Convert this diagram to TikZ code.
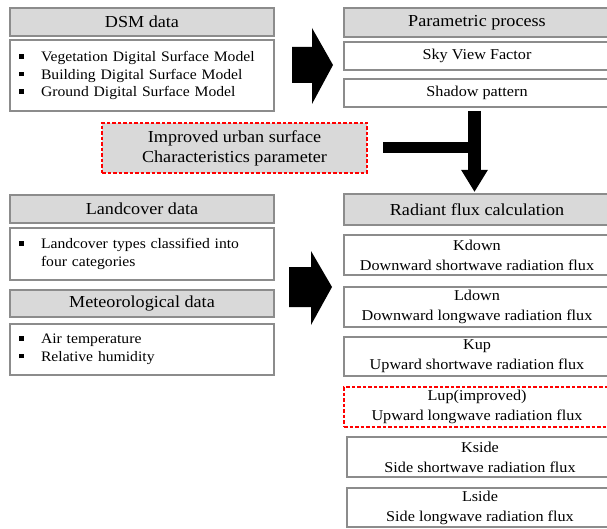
\documentclass[tikz,border=0pt]{standalone}
\usepackage{fontspec}
\setmainfont{Liberation Serif}[FakeStretch=1.08]
\usetikzlibrary{positioning,arrows.meta}

\definecolor{boxgray}{HTML}{D9D9D9}
\definecolor{edgegray}{HTML}{8C8C8C}
\newcommand{\sqbul}{\makebox[22pt][l]{\rule[3pt]{4.5pt}{4.5pt}}}

\begin{document}
\begin{tikzpicture}[
        x=1pt, y=1pt,
        every node/.style={draw=edgegray, line width=1.2pt, inner sep=0pt, outer sep=0pt, align=center, anchor=north west, font=\fontsize{15}{20}\selectfont},
        head/.style={fill=boxgray, minimum height=28pt, font=\fontsize{16.8}{20}\selectfont},
        leftbox/.style={minimum width=264pt},
        listbox/.style={text width=246pt, inner xsep=9pt, align=left, font=\fontsize{14.5}{17.5}\selectfont},
        rightbox/.style={minimum width=266pt, minimum height=40pt},
        improved/.style={draw=red, line width=1.4pt, dash pattern=on 3.5pt off 2pt}
    ]
    \useasboundingbox (0,0) rectangle (607,-529);

    % Input data (left)
    \node[head, leftbox] (dsm) at (10,-8) {DSM data};
    \node[listbox, minimum height=71pt] (dsmlist) at (10,-40) {\sqbul Vegetation Digital Surface Model\\ \sqbul Building Digital Surface Model\\ \sqbul Ground Digital Surface Model};

    \node[head, leftbox] (land) at (10,-195) {Landcover data};
    \node[listbox, minimum height=52pt] (landlist) at (10,-228) {\sqbul Landcover types classified into\\ \hspace*{22pt}four categories};
    \node[head, leftbox, minimum height=27pt] (met) at (10,-290) {Meteorological data};
    \node[listbox, minimum height=51pt] (metlist) at (10,-324) {\sqbul Air temperature\\ \sqbul Relative humidity};

    \node[head, improved, minimum width=265pt, minimum height=50pt] (impr) at (102,-123) {Improved urban surface\\ Characteristics parameter};

    % Processing (right)
    \node[head, minimum width=266pt, minimum height=29pt] (param) at (344,-8) {Parametric process};
    \node[minimum width=266pt, minimum height=28pt] (svf) at (344,-42) {Sky View Factor};
    \node[minimum width=266pt, minimum height=28pt] (shadow) at (344,-79) {Shadow pattern};

    \node[head, minimum width=266pt, minimum height=31pt] (radiant) at (344,-194) {Radiant flux calculation};
    \node[rightbox] (kdown) at (344,-235) {Kdown\\ Downward shortwave radiation flux};
    \node[rightbox] (ldown) at (344,-287) {Ldown\\ Downward longwave radiation flux};
    \node[rightbox, minimum height=39pt] (kup) at (344,-337) {Kup\\ Upward shortwave radiation flux};
    \node[rightbox, improved] (lup) at (344,-387) {Lup(improved)\\ Upward longwave radiation flux};
    \node[rightbox] (kside) at (347,-437) {Kside\\ Side shortwave radiation flux};
    \node[rightbox, minimum height=39pt] (lside) at (347,-488) {Lside\\ Side longwave radiation flux};

    % Block arrows
    \fill (292,-47) -- (312,-47) -- (312,-28) -- (333,-65) -- (312,-104) -- (312,-83) -- (292,-83) -- cycle;
    \fill (289,-267) -- (311,-267) -- (311,-251) -- (332,-287) -- (311,-325) -- (311,-307) -- (289,-307) -- cycle;

    \coordinate (tx) at (474.5,0);
    \draw[line width=13pt, -{Triangle[length=22pt, width=25pt]}] ([yshift=-4pt]shadow.south -| tx) -- ([yshift=2pt]radiant.north -| tx);
    \draw[line width=11pt] ([xshift=16pt]impr.east) -- ([xshift=6.5pt]impr.east -| tx);

\end{tikzpicture}
\end{document}
